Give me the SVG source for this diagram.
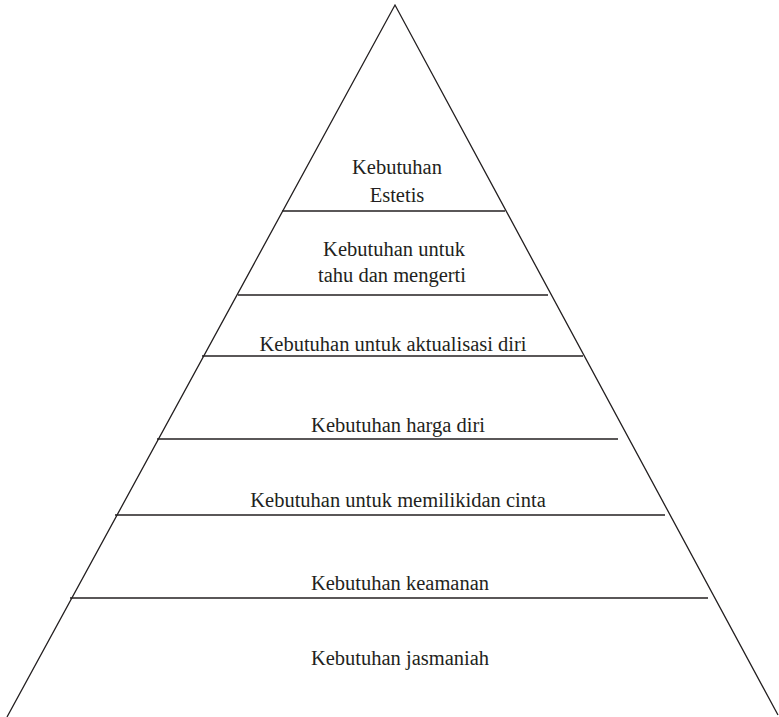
<svg xmlns="http://www.w3.org/2000/svg" width="779" height="717" viewBox="0 0 779 717">
<style>
.ln{stroke:#231f20;stroke-width:1.3;fill:none}
.t{font-family:"Liberation Serif","Times New Roman",serif;font-size:20.5px;fill:#231f20;text-anchor:middle}
</style>
<rect width="779" height="717" fill="#fff"/>
<g id="connectors">
<path class="ln" d="M7,717 L395,5 L778,715"/>
<line class="ln" x1="282" y1="211" x2="505" y2="211"/>
<line class="ln" x1="238" y1="295" x2="548" y2="295"/>
<line class="ln" x1="202" y1="356" x2="583" y2="356"/>
<line class="ln" x1="157" y1="439" x2="618" y2="439"/>
<line class="ln" x1="115" y1="515" x2="665" y2="515"/>
<line class="ln" x1="70" y1="598" x2="708" y2="598"/>
</g>
<g id="estetis"><text class="t" x="397" y="174">Kebutuhan</text><text class="t" x="397" y="202">Estetis</text></g>
<g id="tahu"><text class="t" x="394" y="256">Kebutuhan untuk</text><text class="t" x="392" y="282">tahu dan mengerti</text></g>
<g id="aktualisasi"><text class="t" x="393" y="351">Kebutuhan untuk aktualisasi diri</text></g>
<g id="harga"><text class="t" x="398" y="432">Kebutuhan harga diri</text></g>
<g id="cinta"><text class="t" x="398" y="507">Kebutuhan untuk memilikidan cinta</text></g>
<g id="keamanan"><text class="t" x="400" y="590">Kebutuhan keamanan</text></g>
<g id="jasmaniah"><text class="t" x="400" y="665">Kebutuhan jasmaniah</text></g>
</svg>
